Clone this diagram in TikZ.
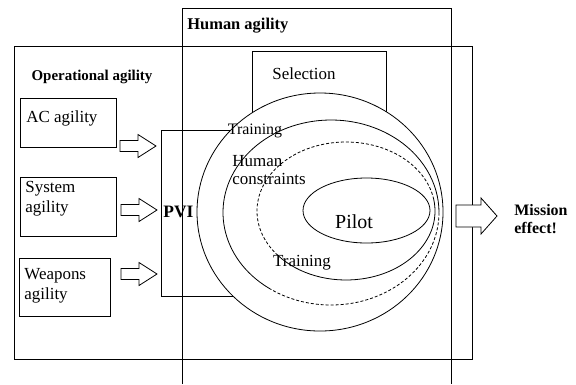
\documentclass[tikz,border=0pt]{standalone}
\usepackage{fontspec}
\setmainfont{Liberation Serif}
\begin{document}
\begin{tikzpicture}[x=1bp,y=-1bp,line width=0.8bp,
  frame/.style={draw,inner sep=0pt,outer sep=0pt},
  lbl/.style={inner sep=0pt,align=left,font=\fontsize{17}{20}\selectfont},
  ttl/.style={inner sep=0pt,align=left,font=\bfseries\fontsize{15}{18}\selectfont},
  dashring/.style={dash pattern=on 3bp off 2bp},
  pics/blockarr/.style args={#1/#2/#3/#4}{code={
    \draw[line width=0.8bp,fill=white] (0,-#2) -- (#3,-#2) -- (#3,-#4) -- (#1,0)
      -- (#3,#4) -- (#3,#2) -- (0,#2) -- cycle;}}]
\useasboundingbox (0,0) rectangle (576,384);

% operational agility frame
\node[frame,minimum width=458bp,minimum height=313bp] (oper) at (243,202.5) {};
% human agility frame, open at the bottom
\draw (182,384) -- (182,8) -- (451,8) -- (451,384);

% the three agility boxes
\node[frame,minimum width=96bp,minimum height=49bp] (ac) at (68,122.5) {};
\node[frame,minimum width=96bp,minimum height=59bp] (sys) at (68,206.5) {};
\node[frame,minimum width=91bp,minimum height=58bp] (wpn) at (64.5,287) {};

% PVI and selection boxes (partly hidden by the rings)
\node[frame,minimum width=89bp,minimum height=166bp] (pvi) at (205.5,213) {};
\node[frame,minimum width=134bp,minimum height=99bp] (sel) at (319,100.5) {};

% nested rings
\fill[white] (320,212) ellipse [x radius=123, y radius=119];
\draw (320,212) ellipse [x radius=123, y radius=119];
\draw (331,212.5) ++(125:108 and 92.5) arc[start angle=125,end angle=360,x radius=108,y radius=92.5];
\draw[dashring] (331,212.5) ++(0:108 and 92.5) arc[start angle=0,end angle=125,x radius=108,y radius=92.5];
\draw[dashring] (346,211) ++(140:89 and 69) arc[start angle=140,end angle=350,x radius=89,y radius=69];
\draw (346,211) ++(-10:89 and 69) arc[start angle=-10,end angle=140,x radius=89,y radius=69];
\draw (366.5,210.5) ellipse [x radius=63.5, y radius=32.5];

% titles and labels
\node[ttl,anchor=west,font=\bfseries\fontsize{16.5}{18}\selectfont] (thum) at (187,26) {Human agility};
\node[ttl] (toper) at (92,77) {Operational agility};
\node[lbl,anchor=west] (tac) at (26,118) {AC agility};
\node[lbl,anchor=north west] (tsys) at (25,181) {System\\agility};
\node[lbl,anchor=north west] (twpn) at (24,268) {Weapons\\agility};
\node[ttl,anchor=west,font=\bfseries\fontsize{17.5}{20}\selectfont] (tpvi) at (163,212) {PVI};
\node[lbl] (tsel) at (304,74) {Selection};
\node[lbl,font=\fontsize{16}{19}\selectfont] (ttr1) at (255,131) {Training};
\node[lbl,anchor=north west,font=\fontsize{17}{18}\selectfont] (thc) at (232,155) {Human\\constraints};
\node[lbl,font=\fontsize{20}{23}\selectfont] (tpil) at (354,222) {Pilot};
\node[lbl] (ttr2) at (302,263) {Training};
\node[ttl,anchor=north west,font=\bfseries\fontsize{16}{18.5}\selectfont] (tmis) at (514,204) {Mission\\effect!};

% block arrows
\pic at (120,146) {blockarr=36/5.5/18/11.5};
\pic at (121,210) {blockarr=36/5.5/18/11.5};
\pic at (121,274) {blockarr=36/5.5/18/11.5};
\pic at (456,216) {blockarr=41/11/25/18};
\end{tikzpicture}
\end{document}
